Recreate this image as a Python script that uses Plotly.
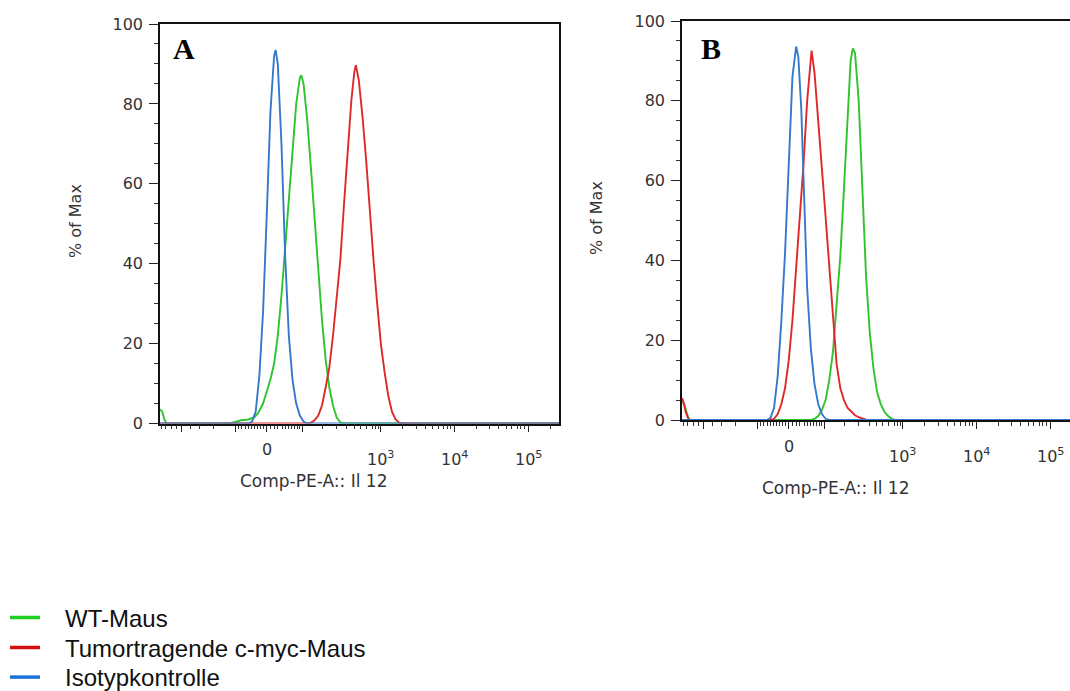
import plotly.graph_objects as go

W, H = 1070, 691

# ---------------- data (x in display units of the biexponential axis) ----------------
series_names = ["WT-Maus", "Tumortragende c-myc-Maus", "Isotypkontrolle"]
curve_colors = ["#2ec42e", "#e0282a", "#3479cc"]
legend_colors = ["#1ed01e", "#d40f0f", "#1a73d9"]

# Panel A
a_wt_x = [0.00, 0.03, 0.06, 0.09, 0.95, 1.00, 1.10, 1.20, 1.28, 1.33, 1.40, 1.45, 1.50, 1.55,
          1.60, 1.65, 1.70, 1.75, 1.80, 1.85, 1.90, 1.92, 1.95, 2.00, 2.05, 2.10, 2.15, 2.20,
          2.25, 2.30, 2.35, 2.40, 2.45, 2.50, 5.42]
a_wt_y = [3.5, 3.0, 1.0, 0.0, 0.0, 0.3, 0.8, 1.0, 1.5, 2.5, 5.0, 8.0, 11.0, 15.0,
          22.0, 32.0, 44.0, 57.0, 70.0, 80.0, 86.5, 87.2, 85.0, 76.0, 64.0, 51.0, 38.0, 26.0,
          16.0, 9.0, 4.5, 1.5, 0.3, 0.0, 0.0]

a_myc_x = [0.00, 2.00, 2.05, 2.10, 2.15, 2.20, 2.25, 2.30, 2.35, 2.40, 2.45, 2.50, 2.55, 2.60,
           2.64, 2.66, 2.70, 2.75, 2.80, 2.85, 2.90, 2.95, 3.00, 3.05, 3.10, 3.15, 3.20, 3.25,
           3.30, 5.42]
a_myc_y = [0.0, 0.0, 0.2, 0.8, 2.0, 4.5, 9.0, 14.0, 22.0, 31.0, 41.0, 55.0, 68.0, 81.0,
           88.0, 89.7, 86.0, 77.0, 66.0, 53.0, 41.0, 30.0, 20.0, 13.0, 7.0, 3.0, 1.0, 0.2,
           0.0, 0.0]

a_iso_x = [0.00, 1.20, 1.25, 1.30, 1.35, 1.40, 1.45, 1.50, 1.55, 1.57, 1.60, 1.65, 1.70, 1.75,
           1.80, 1.85, 1.90, 1.95, 2.00, 5.42]
a_iso_y = [0.0, 0.0, 0.5, 3.0, 12.0, 28.0, 52.0, 78.0, 92.0, 93.5, 90.0, 70.0, 42.0, 22.0,
           11.0, 5.0, 2.0, 0.5, 0.0, 0.0]

# Panel B
b_wt_x = [0.00, 0.03, 0.07, 0.10, 1.75, 1.80, 1.85, 1.90, 1.95, 2.00, 2.05, 2.10, 2.15, 2.20,
          2.25, 2.29, 2.32, 2.35, 2.40, 2.45, 2.50, 2.55, 2.60, 2.65, 2.70, 2.75, 2.80, 2.85,
          2.90, 5.27]
b_wt_y = [4.5, 4.0, 1.5, 0.0, 0.0, 0.3, 1.0, 2.5, 5.0, 10.0, 17.0, 28.0, 41.0, 58.0,
          77.0, 90.0, 93.1, 92.0, 80.0, 56.0, 36.0, 22.0, 13.0, 7.0, 4.0, 2.0, 1.0, 0.3,
          0.0, 0.0]

b_myc_x = [0.00, 0.02, 0.05, 0.08, 0.11, 1.20, 1.25, 1.30, 1.35, 1.40, 1.45, 1.50, 1.55, 1.60,
           1.65, 1.70, 1.74, 1.76, 1.80, 1.85, 1.90, 1.95, 2.00, 2.05, 2.10, 2.15, 2.20, 2.25,
           2.30, 2.35, 2.40, 2.45, 2.50, 2.55, 5.27]
b_myc_y = [5.5, 4.5, 2.0, 0.5, 0.0, 0.0, 0.3, 1.5, 4.0, 8.0, 15.0, 25.0, 38.0, 50.0,
           64.0, 80.0, 90.0, 92.6, 87.0, 76.0, 63.0, 51.0, 38.0, 25.0, 14.0, 8.0, 5.0, 3.0,
           2.0, 1.2, 0.7, 0.3, 0.1, 0.0, 0.0]

b_iso_x = [0.00, 1.15, 1.20, 1.25, 1.30, 1.35, 1.40, 1.45, 1.50, 1.55, 1.58, 1.62, 1.66, 1.70,
           1.75, 1.80, 1.85, 1.90, 1.95, 2.00, 5.27]
b_iso_y = [0.0, 0.0, 0.5, 3.0, 11.0, 25.0, 42.0, 65.0, 86.0, 93.6, 91.0, 78.0, 55.0, 33.0,
           18.0, 9.0, 4.0, 1.5, 0.3, 0.0, 0.0]

# axis ticks (biexponential display units)
x_major_ticks = [0.29, 1.02, 1.45, 1.93, 3.0, 4.0, 5.0]
x_minor_ticks = [0.02, 0.08, 0.15, 0.22, 0.42, 0.54, 0.72,
                 1.06, 1.11, 1.16, 1.20, 1.24, 1.28, 1.32, 1.36, 1.40,
                 1.50, 1.55, 1.60, 1.66, 1.71, 1.75, 1.79, 1.83, 1.87, 1.90,
                 2.21, 2.40, 2.54, 2.64, 2.72, 2.81, 2.88, 2.93, 2.97,
                 3.30, 3.48, 3.60, 3.70, 3.78, 3.85, 3.90, 3.95,
                 4.30, 4.48, 4.60, 4.70, 4.78, 4.85, 4.90, 4.95, 5.30]
x_label_pos = [1.45, 3.0, 4.0, 5.0]
x_label_text = ["0", "10<sup>3</sup>", "10<sup>4</sup>", "10<sup>5</sup>"]
y_tick_vals = [0, 20, 40, 60, 80, 100]

x_title = "Comp-PE-A:: Il 12"
y_title = "% of Max"
panel_letters = ["A", "B"]

# ---------------- figure ----------------
FONT = "DejaVu Sans, Verdana, sans-serif"
LEGFONT = "Arial, Liberation Sans, sans-serif"
TXT = "#333333"

fig = go.Figure()

panels = [
    dict(xs=[a_wt_x, a_myc_x, a_iso_x], ys=[a_wt_y, a_myc_y, a_iso_y], xa="x", ya="y"),
    dict(xs=[b_wt_x, b_myc_x, b_iso_x], ys=[b_wt_y, b_myc_y, b_iso_y], xa="x2", ya="y2"),
]
for p in panels:
    for i in range(3):
        fig.add_trace(go.Scatter(x=p["xs"][i], y=p["ys"][i], mode="lines",
                                 line=dict(color=curve_colors[i], width=1.9),
                                 xaxis=p["xa"], yaxis=p["ya"], showlegend=False,
                                 name=series_names[i], hoverinfo="skip"))

# legend entries, one small legend per row so that the row spacing matches
legend_ids = ["legend", "legend2", "legend3"]
legend_rows = [618, 648, 677.5]
for i in range(3):
    fig.add_trace(go.Scatter(x=[None], y=[None], mode="lines",
                             line=dict(color=legend_colors[i], width=3.5),
                             name="\u00a0\u00a0\u00a0" + series_names[i], showlegend=True,
                             legend=legend_ids[i]))

# panel geometry (pixels)
A = dict(left=160, right=559, top=24, bottom=423.5, xr=[0, 5.42])
B = dict(left=682, right=1070, top=21, bottom=420, xr=[0, 5.27])


def xaxis_cfg(g, anchor):
    return dict(domain=[g["left"] / W, g["right"] / W], range=g["xr"], anchor=anchor,
                showline=True, linecolor="#111111", linewidth=1.6, mirror=True,
                showgrid=False, zeroline=False, ticks="outside", ticklen=7, tickwidth=1,
                tickcolor="#222222", tickmode="array", tickvals=x_major_ticks,
                showticklabels=False,
                minor=dict(tickmode="array", tickvals=x_minor_ticks, ticks="outside",
                           ticklen=4, tickwidth=1, tickcolor="#333333", showgrid=False))


def yaxis_cfg(g, anchor, mirror):
    return dict(domain=[(H - g["bottom"]) / H, (H - g["top"]) / H], range=[0, 100],
                anchor=anchor, showline=True, linecolor="#111111", linewidth=1.6,
                mirror=mirror, showgrid=False, zeroline=False, ticks="outside", ticklen=9,
                tickwidth=1, tickcolor="#222222", tickmode="array", tickvals=y_tick_vals,
                ticklabelstandoff=3,
                tickfont=dict(family=FONT, size=16, color=TXT),
                minor=dict(dtick=5, tick0=0, ticks="outside", ticklen=4, tickwidth=1,
                           tickcolor="#333333", showgrid=False))


leg_common = dict(xanchor="left", yanchor="middle",
                  font=dict(family=LEGFONT, size=24, color="#111111"),
                  itemwidth=30, bgcolor="rgba(0,0,0,0)", borderwidth=0)

fig.update_layout(
    width=W, height=H,
    margin=dict(l=0, r=0, t=0, b=0, pad=0, autoexpand=False),
    paper_bgcolor="white", plot_bgcolor="white",
    xaxis=xaxis_cfg(A, "y"), yaxis=yaxis_cfg(A, "x", True),
    xaxis2=xaxis_cfg(B, "y2"), yaxis2=yaxis_cfg(B, "x2", False),
    showlegend=True,
    legend=dict(x=5 / W, y=1 - legend_rows[0] / H, **leg_common),
    legend2=dict(x=5 / W, y=1 - legend_rows[1] / H, **leg_common),
    legend3=dict(x=5 / W, y=1 - legend_rows[2] / H, **leg_common),
)

ann = []
for (xa, ya, g, letter, lx, ly, tx, ty, yx, yy) in [
    ("x", "y", A, panel_letters[0], 184, 49, 313, 481, 75, 221),
    ("x2", "y2", B, panel_letters[1], 711, 48, 835, 488, 596, 218),
]:
    for pos, txt in zip(x_label_pos, x_label_text):
        is_zero = txt == "0"
        ann.append(dict(x=pos, y=0, xref=xa, yref=ya, text=txt, showarrow=False,
                        xanchor="center", yanchor="top",
                        yshift=-15 if is_zero else -23,
                        font=dict(family=FONT, size=16, color=TXT)))
    ann.append(dict(x=lx / W, y=1 - ly / H, xref="paper", yref="paper", text="<b>" + letter + "</b>",
                    showarrow=False, xanchor="center", yanchor="middle",
                    font=dict(family="Liberation Serif, Times New Roman, serif", size=30,
                              color="#000000")))
    ann.append(dict(x=tx / W, y=1 - ty / H, xref="paper", yref="paper", text=x_title,
                    showarrow=False, xanchor="center", yanchor="middle",
                    font=dict(family=FONT, size=17, color=TXT)))
    ann.append(dict(x=yx / W, y=1 - yy / H, xref="paper", yref="paper", text=y_title,
                    showarrow=False, xanchor="center", yanchor="middle", textangle=-90,
                    font=dict(family=FONT, size=16, color=TXT)))

fig.update_layout(annotations=ann)

fig.write_html("out.html")
